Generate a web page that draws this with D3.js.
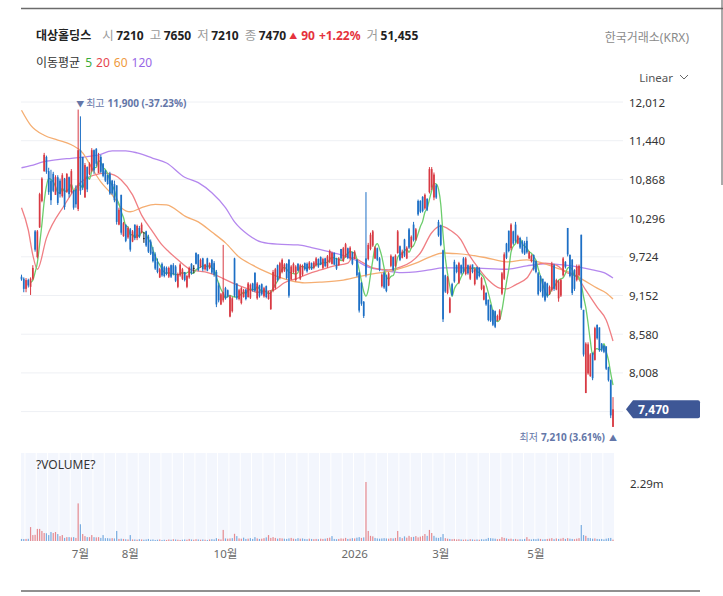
<!DOCTYPE html>
<html>
<head>
<meta charset="utf-8">
<script src="https://cdn.jsdelivr.net/npm/d3@7"></script>
<style>
  body { margin: 0; background: #fff; }
  svg { display: block; font-family: "Noto Sans", "Noto Sans CJK KR", sans-serif; }
</style>
</head>
<body>
<svg id="chart" width="723" height="596"></svg>
<script>
// daily bars, oldest first (price in KRW)
var opens = [
  9430, 9400, 9250, 9380, 9280, 9400, 10100, 9720, 10160, 10550,
  10990, 11200, 10990, 10850, 10950, 10640, 10900, 10850, 10620, 10880,
  10680, 10900, 10680, 10700, 10720, 10430, 11300, 11200, 10600, 11050,
  10950, 11000, 11300, 11320, 10960, 11200, 11100, 11000, 10930, 10950,
  10850, 10800, 10780, 10200, 10640, 10030, 10200, 10010, 10130, 9950,
  10200, 10000, 10150, 10080, 10000, 10100, 10020, 9950, 9800, 9760,
  9650, 9420, 9620, 9570, 9560, 9430, 9600, 9600, 9580, 9280,
  9450, 9400, 9500, 9280, 9420, 9620, 9560, 9780, 9760, 9580,
  9700, 9540, 9700, 9560, 9680, 9630, 9500, 9300, 9020, 9080,
  9260, 9230, 8840, 8920, 9700, 9330, 9100, 9040, 9130, 9240,
  9130, 9120, 9330, 9490, 9110, 9300, 9320, 9140, 9290, 9100,
  8950, 9220, 9260, 9600, 9410, 9500, 9520, 9620, 9680, 9390,
  9500, 9380, 9620, 9400, 9460, 9630, 9620, 9550, 9630, 9560,
  9600, 9690, 9720, 9560, 9700, 9580, 9650, 9620, 9780, 9690,
  9600, 9840, 9660, 9720, 9850, 9700, 9790, 9700, 9680, 9490,
  9340, 9060, 9700, 9690, 9840, 9890, 9700, 9850, 9700, 9290,
  9490, 9450, 9300, 9590, 9720, 9590, 9780, 9880, 9710, 9980,
  9700, 10130, 9870, 10200, 9980, 10550, 10550, 10610, 10440, 10580,
  10680, 10750, 10600, 10780, 10240, 10190, 9820, 9450, 9190, 8900,
  9320, 9650, 9600, 9340, 9600, 9700, 9470, 9600, 9400, 9610,
  9320, 9570, 9560, 9250, 9090, 9190, 9090, 9010, 8940, 8920,
  8780, 8800, 9180, 9400, 9920, 10110, 9850, 10100, 10200, 9920,
  10000, 9950, 9930, 9960, 9700, 9660, 9750, 9660, 9480, 9440,
  9400, 9350, 9330, 9170, 9230, 9600, 9240, 9110, 9150, 9450,
  9650, 10150, 9750, 9680, 9530, 9380, 9450, 10050, 8940, 7710,
  8000, 7960, 8300, 8200, 8720, 8680, 8440, 8410, 8400, 8090,
  7900, 7210
];
var highs = [
  9460, 9420, 9410, 9400, 9420, 9600, 10120, 10120, 10670, 10900,
  11260, 11220, 11040, 11010, 10980, 10930, 10930, 10880, 10960, 10890,
  10960, 10910, 11020, 10710, 10780, 11900, 11800, 11200, 11110, 11060,
  11120, 11330, 11310, 11330, 11260, 11230, 11110, 11010, 10940, 10980,
  10860, 10850, 10780, 10450, 10640, 10240, 10200, 10170, 10150, 10120,
  10200, 10200, 10180, 10230, 10090, 10110, 10050, 9980, 9870, 9790,
  9700, 9560, 9640, 9590, 9580, 9580, 9610, 9630, 9600, 9490,
  9630, 9560, 9500, 9460, 9580, 9630, 9600, 9790, 9760, 9700,
  9710, 9620, 9710, 9640, 9690, 9660, 9530, 9340, 9190, 9900,
  9280, 9240, 9160, 9130, 9710, 9330, 9250, 9280, 9250, 9250,
  9350, 9330, 9340, 9490, 9350, 9310, 9330, 9280, 9300, 9220,
  9230, 9530, 9560, 9610, 9650, 9700, 9630, 9630, 9690, 9600,
  9640, 9600, 9630, 9620, 9610, 9640, 9640, 9660, 9640, 9660,
  9720, 9700, 9730, 9710, 9710, 9750, 9830, 9800, 9790, 9710,
  9720, 9840, 9870, 9930, 9860, 9880, 9800, 9820, 9690, 9500,
  9350, 9070, 10680, 9930, 10080, 10120, 9880, 9860, 9720, 9480,
  9510, 9460, 9500, 9760, 9730, 9760, 10120, 9890, 9830, 9990,
  9880, 10150, 10040, 10240, 10150, 10570, 10560, 10620, 10660, 10590,
  11050, 11050, 10970, 10800, 10270, 10200, 9830, 9460, 9440, 9130,
  9340, 9680, 9610, 9650, 9610, 9720, 9720, 9610, 9610, 9610,
  9560, 9580, 9570, 9430, 9310, 9200, 9090, 9020, 8940, 8930,
  8870, 8950, 9500, 9790, 9930, 10110, 10220, 10110, 10240, 10050,
  10020, 9970, 9960, 10020, 9810, 9760, 9760, 9670, 9500, 9450,
  9400, 9360, 9340, 9300, 9650, 9620, 9400, 9380, 9400, 9720,
  9660, 10150, 9760, 9690, 9540, 9610, 9610, 10050, 8940, 8460,
  8460, 8300, 8310, 8690, 8720, 8680, 8450, 8420, 8400, 8100,
  7910, 7650
];
var lows = [
  9370, 9200, 9200, 9270, 9160, 9380, 9800, 9700, 10150, 10530,
  10980, 10950, 10640, 10490, 10680, 10640, 10490, 10600, 10600, 10420,
  10670, 10600, 10660, 10420, 10450, 10400, 10640, 10710, 10600, 10680,
  10930, 10980, 10950, 11060, 10960, 10960, 10900, 10830, 10790, 10640,
  10640, 10530, 10200, 10190, 10050, 10020, 9940, 9990, 9800, 9940,
  9970, 9970, 10000, 10070, 9930, 9870, 9780, 9750, 9640, 9530,
  9480, 9410, 9430, 9420, 9450, 9410, 9410, 9450, 9350, 9260,
  9430, 9380, 9360, 9260, 9400, 9460, 9480, 9610, 9510, 9560,
  9510, 9520, 9510, 9540, 9470, 9430, 8980, 9050, 9010, 9050,
  9090, 9120, 8830, 8900, 9130, 9090, 9080, 9020, 9120, 9080,
  9120, 9100, 9210, 9200, 9090, 9120, 9150, 9120, 9110, 9090,
  8940, 9200, 9240, 9360, 9390, 9480, 9500, 9390, 9120, 9380,
  9480, 9360, 9510, 9380, 9440, 9520, 9490, 9530, 9530, 9540,
  9580, 9560, 9600, 9540, 9570, 9560, 9630, 9610, 9600, 9530,
  9590, 9680, 9650, 9710, 9690, 9680, 9600, 9690, 9430, 8900,
  9000, 8820, 9420, 9670, 9820, 9870, 9690, 9660, 9510, 9270,
  9250, 9200, 9290, 9570, 9510, 9570, 9770, 9660, 9700, 9720,
  9690, 9840, 9850, 9950, 9960, 10330, 10370, 10380, 10420, 10400,
  10660, 10710, 10560, 10580, 10020, 9880, 8760, 9190, 9170, 8890,
  9140, 9340, 9480, 9320, 9460, 9480, 9450, 9460, 9380, 9480,
  9300, 9380, 9420, 9230, 9080, 9000, 8770, 8760, 8700, 8670,
  8770, 8790, 9160, 9380, 9690, 9790, 9820, 9900, 9930, 9910,
  9840, 9770, 9750, 9770, 9690, 9640, 9520, 9480, 9150, 9200,
  9120, 9060, 9120, 9160, 9210, 9220, 9230, 9060, 9130, 9430,
  9550, 9730, 9420, 9160, 9220, 9360, 9430, 8940, 8250, 7710,
  7980, 7950, 7900, 8190, 8500, 8320, 8320, 8300, 8050, 7880,
  7340, 7210
];
var closes = [
  9390, 9250, 9380, 9300, 9400, 9560, 9830, 10100, 10650, 10880,
  11230, 10980, 10680, 10560, 10700, 10900, 10520, 10650, 10930, 10460,
  10950, 10650, 10990, 10450, 10500, 11300, 10700, 10750, 11080, 10720,
  11100, 11300, 11000, 11100, 11220, 10980, 10920, 10850, 10800, 10660,
  10660, 10560, 10240, 10420, 10080, 10220, 9960, 10150, 9830, 10100,
  10000, 10180, 10020, 10200, 10000, 9890, 9800, 9770, 9660, 9550,
  9500, 9540, 9450, 9440, 9470, 9560, 9430, 9470, 9370, 9470,
  9610, 9540, 9380, 9440, 9560, 9480, 9560, 9620, 9530, 9680,
  9540, 9610, 9520, 9630, 9490, 9460, 9020, 9080, 9170, 9200,
  9110, 9140, 9140, 9110, 9150, 9110, 9230, 9260, 9230, 9100,
  9330, 9310, 9230, 9220, 9330, 9140, 9170, 9260, 9130, 9200,
  9210, 9500, 9540, 9380, 9630, 9680, 9610, 9410, 9150, 9580,
  9620, 9580, 9520, 9600, 9590, 9540, 9510, 9640, 9540, 9640,
  9700, 9580, 9610, 9690, 9590, 9730, 9810, 9780, 9610, 9550,
  9700, 9700, 9850, 9910, 9710, 9860, 9620, 9800, 9450, 8930,
  9030, 8850, 9460, 9900, 10050, 10100, 9860, 9680, 9530, 9460,
  9270, 9220, 9480, 9740, 9530, 9740, 10100, 9680, 9800, 9740,
  9860, 9860, 10020, 9970, 10130, 10350, 10390, 10400, 10640, 10420,
  11020, 11020, 10940, 10600, 10040, 9900, 8800, 9210, 9420, 9110,
  9160, 9360, 9500, 9630, 9480, 9500, 9700, 9480, 9590, 9500,
  9540, 9400, 9440, 9410, 9290, 9020, 8790, 8780, 8720, 8690,
  8850, 8930, 9480, 9760, 9710, 9810, 10200, 9920, 9960, 10030,
  9860, 9790, 9770, 9790, 9790, 9740, 9540, 9500, 9170, 9220,
  9140, 9080, 9140, 9280, 9620, 9250, 9380, 9360, 9380, 9700,
  9570, 9760, 9440, 9190, 9250, 9580, 9590, 8970, 8280, 8440,
  8430, 8280, 7930, 8670, 8520, 8350, 8340, 8320, 8070, 7900,
  7380, 7470
];
// volume in thousands of shares
var volumeK = [
  80, 75, 80, 85, 540, 230, 240, 470, 470, 390,
  310, 300, 230, 350, 310, 350, 270, 190, 230, 120,
  150, 150, 140, 150, 120, 1460, 650, 270, 190, 150,
  150, 230, 150, 140, 150, 120, 230, 110, 110, 100,
  110, 100, 390, 80, 90, 80, 70, 60, 230, 60,
  60, 50, 70, 60, 50, 60, 80, 50, 60, 40,
  50, 60, 40, 50, 40, 60, 50, 70, 60, 50,
  40, 50, 60, 50, 80, 60, 50, 70, 60, 50,
  60, 50, 40, 60, 70, 60, 110, 80, 60, 430,
  100, 90, 100, 110, 280, 190, 100, 90, 130, 80,
  90, 110, 80, 150, 100, 80, 90, 110, 140, 230,
  120, 150, 120, 90, 110, 100, 90, 80, 100, 120,
  90, 80, 110, 90, 100, 80, 70, 90, 80, 70,
  80, 70, 90, 80, 90, 110, 130, 190, 80, 70,
  80, 100, 90, 120, 80, 90, 110, 100, 130, 150,
  120, 140, 2290, 390, 200, 180, 120, 100, 90, 100,
  110, 100, 90, 110, 100, 120, 390, 150, 110, 180,
  130, 200, 150, 160, 190, 140, 170, 200, 270, 200,
  430, 310, 200, 130, 120, 150, 270, 110, 90, 80,
  70, 80, 60, 70, 60, 50, 60, 50, 70, 60,
  50, 60, 50, 70, 60, 80, 120, 110, 100, 90,
  70, 80, 150, 120, 100, 80, 90, 70, 80, 60,
  70, 60, 80, 150, 70, 60, 80, 70, 90, 80,
  60, 70, 80, 90, 110, 70, 100, 80, 90, 120,
  80, 110, 90, 80, 70, 90, 110, 620, 230, 200,
  120, 110, 90, 100, 80, 70, 80, 60, 90, 110,
  120, 51.455
];

// longer moving averages: bar index -> value
var ma20Idx = [0, 3, 5, 7, 11, 19, 25, 29, 32, 37, 41, 44, 49, 53, 58, 62, 65, 69, 75, 81, 85, 93, 99, 104, 111, 116, 122, 128, 132, 138, 144, 146, 151, 155, 162, 167, 172, 176, 181, 185, 189, 194, 197, 200, 206, 211, 214, 218, 223, 227, 231, 236, 240, 245, 249, 254, 258, 261];
var ma20Val = [10450, 10120, 9750, 9540, 10000, 10490, 10790, 10890, 10930, 10960, 10930, 10860, 10640, 10340, 10090, 9900, 9800, 9680, 9530, 9500, 9460, 9340, 9260, 9200, 9230, 9340, 9410, 9490, 9530, 9590, 9630, 9710, 9630, 9560, 9530, 9570, 9650, 9780, 10080, 10180, 10120, 9970, 9780, 9630, 9380, 9260, 9250, 9310, 9410, 9600, 9630, 9600, 9500, 9430, 9230, 8980, 8790, 8480];
var ma60Idx = [0, 4, 10, 16, 22, 27, 31, 35, 40, 44, 48, 53, 59, 64, 73, 78, 84, 90, 96, 102, 108, 113, 119, 125, 132, 142, 153, 165, 174, 180, 186, 192, 198, 205, 214, 223, 230, 236, 242, 248, 254, 258, 261];
var ma60Val = [11890, 11670, 11520, 11450, 11380, 11260, 11040, 10830, 10640, 10450, 10390, 10450, 10500, 10490, 10310, 10240, 10090, 9930, 9720, 9600, 9500, 9430, 9370, 9340, 9350, 9380, 9460, 9530, 9630, 9720, 9780, 9770, 9750, 9710, 9650, 9680, 9630, 9560, 9490, 9380, 9260, 9190, 9100];
var ma120Idx = [0, 4, 10, 16, 22, 28, 34, 40, 46, 51, 58, 64, 72, 78, 84, 90, 94, 100, 106, 113, 122, 128, 132, 138, 147, 153, 159, 168, 174, 180, 186, 198, 214, 223, 231, 240, 246, 252, 257, 261];
var ma120Val = [11040, 11070, 11130, 11160, 11180, 11200, 11230, 11290, 11290, 11260, 11180, 11110, 10900, 10820, 10670, 10450, 10240, 10050, 9940, 9910, 9900, 9860, 9830, 9780, 9680, 9570, 9530, 9490, 9500, 9530, 9560, 9560, 9540, 9590, 9620, 9600, 9570, 9530, 9490, 9410];

var priceTicks = [12012, 11440, 10868, 10296, 9724, 9152, 8580, 8008, 7436];
var monthIdx = [26, 48, 90, 147, 185, 227];
var monthLabels = ["7월", "8월", "10월", "2026", "3월", "5월"];
var maNames = ["5", "20", "60", "120"];
var maColors = ["#6ccd6c", "#f07f84", "#f5ae72", "#b487ee"];
var maLegendColors = ["#3aab3a", "#e5444d", "#ef9a3d", "#9868e6"];

var svg = d3.select("#chart");
var n = closes.length;

var x = d3.scaleLinear().domain([0, n - 1]).range([21.5, 613]);
var y = d3.scaleLinear().domain([7436, 12012]).range([411.6, 102]);
var yv = d3.scaleLinear().domain([0, d3.max(volumeK)]).range([541, 482]);

var upColor = "#d83a43", downColor = "#1d6fc5";

// frame lines
svg.append("line").attr("x1", 21).attr("x2", 723).attr("y1", 8.5).attr("y2", 8.5)
    .attr("stroke", "#6b6b6b").attr("stroke-width", 1.5);
svg.append("line").attr("x1", 722).attr("x2", 722).attr("y1", 0).attr("y2", 185)
    .attr("stroke", "#555");
svg.append("line").attr("x1", 21).attr("x2", 700).attr("y1", 591).attr("y2", 591)
    .attr("stroke", "#6b6b6b").attr("stroke-width", 1.5);

// header: name and last bar summary
var last = n - 1;
var change = closes[last] - closes[last - 1];
var pct = change / closes[last - 1] * 100;
var head = svg.append("text").attr("x", 36).attr("y", 35)
    .attr("dominant-baseline", "central").attr("font-size", 12);
head.append("tspan").attr("font-weight", "bold").attr("fill", "#222").text("대상홀딩스");
var parts = [["시", opens[last]], ["고", highs[last]], ["저", lows[last]], ["종", closes[last]]];
parts.forEach(function(p, k){
    head.append("tspan").attr("dx", k == 0 ? 11 : 6).attr("fill", "#9a9a9a")
        .attr("font-size", 12.5).text(p[0]);
    head.append("tspan").attr("dx", 2.5).attr("font-weight", "bold").attr("fill", "#222").text(p[1]);
});
head.append("tspan").attr("dx", 3).attr("fill", "#e5323c").attr("font-size", 8).text("▲");
head.append("tspan").attr("dx", 4).attr("fill", "#e5323c").attr("font-weight", "bold")
    .text(change);
head.append("tspan").attr("dx", 4).attr("fill", "#e5323c").attr("font-weight", "bold")
    .text("+" + pct.toFixed(2) + "%");
head.append("tspan").attr("dx", 6).attr("fill", "#9a9a9a").attr("font-size", 12.5).text("거");
head.append("tspan").attr("dx", 2.5).attr("font-weight", "bold").attr("fill", "#222")
    .text(d3.format(",")(Math.round(volumeK[last] * 1000)));

// moving average legend
var leg = svg.append("text").attr("x", 36).attr("y", 62)
    .attr("dominant-baseline", "central").attr("font-size", 12);
leg.append("tspan").attr("fill", "#333").text("이동평균");
maNames.forEach(function(m, k){
    leg.append("tspan").attr("dx", k == 0 ? 5 : 4).attr("fill", maLegendColors[k]).text(m);
});

svg.append("text").attr("x", 689).attr("y", 37).attr("text-anchor", "end")
    .attr("dominant-baseline", "central").attr("font-size", 12).attr("fill", "#8a8a8a")
    .text("한국거래소(KRX)");
svg.append("text").attr("x", 673).attr("y", 77).attr("text-anchor", "end")
    .attr("dominant-baseline", "central").attr("font-size", 11.5).attr("fill", "#555")
    .text("Linear");
svg.append("path").attr("d", "M680,75 L684,79 L688,75").attr("fill", "none")
    .attr("stroke", "#666").attr("stroke-width", 1);

// price grid and labels
svg.append("g").selectAll("line").data(priceTicks).enter().append("line")
    .attr("x1", 21).attr("x2", 623)
    .attr("y1", function(d){ return y(d); }).attr("y2", function(d){ return y(d); })
    .attr("stroke", "#eef0f4");
svg.append("g").selectAll("text").data(priceTicks.slice(0, -1)).enter().append("text")
    .attr("x", 629).attr("y", function(d){ return y(d); })
    .attr("dominant-baseline", "central").attr("font-size", 11.5).attr("fill", "#333")
    .text(function(d){ return d3.format(",")(d); });

// volume panel
svg.append("rect").attr("x", 21).attr("y", 453).attr("width", 593).attr("height", 88)
    .attr("fill", "#f3f6fd");
svg.append("g").selectAll("line").data(d3.range(2, n, 5)).enter().append("line")
    .attr("x1", function(d){ return x(d) - 1.1; }).attr("x2", function(d){ return x(d) - 1.1; })
    .attr("y1", 453).attr("y2", 541).attr("stroke", "#ffffff").attr("stroke-width", 1);
svg.append("text").attr("x", 36).attr("y", 464).attr("dominant-baseline", "central")
    .attr("font-size", 12).attr("fill", "#333").text("?VOLUME?");
svg.append("text").attr("x", 630).attr("y", 483).attr("dominant-baseline", "central")
    .attr("font-size", 11.5).attr("fill", "#333")
    .text((d3.max(volumeK) / 1000).toFixed(2) + "m");

svg.append("g").selectAll("rect").data(volumeK).enter().append("rect")
    .attr("x", function(d, i){ return x(i) - 0.6; })
    .attr("width", 1.2)
    .attr("y", function(d){ return yv(d); })
    .attr("height", function(d){ return 541 - yv(d); })
    .attr("fill", function(d, i){
        var up = i == 0 ? closes[0] >= opens[0] : closes[i] >= closes[i - 1];
        return up ? "#e58a90" : "#79ace0";
    });

// x axis labels
svg.append("g").selectAll("text").data(monthIdx).enter().append("text")
    .attr("x", function(d){ return x(d); }).attr("y", 553)
    .attr("text-anchor", "middle").attr("dominant-baseline", "central")
    .attr("font-size", 11.5).attr("fill", "#6a6a6a")
    .text(function(d, k){ return monthLabels[k]; });

// moving averages
var ma5 = closes.map(function(c, i){
    return i < 4 ? null : d3.mean(closes.slice(i - 4, i + 1));
});
var maLine = d3.line()
    .defined(function(d){ return d[1] != null; })
    .x(function(d){ return x(d[0]); })
    .y(function(d){ return y(d[1]); })
    .curve(d3.curveMonotoneX);
var maSeries = [
    ma5.map(function(v, i){ return [i, v]; }),
    ma20Idx.map(function(v, k){ return [v, ma20Val[k]]; }),
    ma60Idx.map(function(v, k){ return [v, ma60Val[k]]; }),
    ma120Idx.map(function(v, k){ return [v, ma120Val[k]]; })
];
[3, 2, 1, 0].forEach(function(k){
    svg.append("path").datum(maSeries[k]).attr("d", maLine)
        .attr("fill", "none").attr("stroke", maColors[k]).attr("stroke-width", 1.3);
});

// candles
var candles = svg.append("g").selectAll("g").data(closes).enter().append("g");
function candleColor(i){
    if (closes[i] > opens[i]) return upColor;
    if (closes[i] < opens[i]) return downColor;
    return "#222";
}
candles.append("line")
    .attr("x1", function(d, i){ return x(i); }).attr("x2", function(d, i){ return x(i); })
    .attr("y1", function(d, i){ return y(highs[i]); })
    .attr("y2", function(d, i){ return y(lows[i]); })
    .attr("stroke", function(d, i){ return candleColor(i); }).attr("stroke-width", 1);
candles.append("rect")
    .attr("x", function(d, i){ return x(i) - 0.85; }).attr("width", 1.7)
    .attr("y", function(d, i){ return y(Math.max(opens[i], closes[i])); })
    .attr("height", function(d, i){ return Math.max(1, Math.abs(y(opens[i]) - y(closes[i]))); })
    .attr("fill", function(d, i){ return candleColor(i); });

// high / low markers
var hiIdx = d3.maxIndex(highs), loIdx = d3.minIndex(lows);
var hiPct = (closes[last] - highs[hiIdx]) / highs[hiIdx] * 100;
var loPct = (closes[last] - lows[loIdx]) / lows[loIdx] * 100;
var hiText = svg.append("text").attr("x", x(hiIdx) - 2).attr("y", 103)
    .attr("dominant-baseline", "central").attr("font-size", 10).attr("fill", "#6476a8");
hiText.append("tspan").attr("font-size", 8).text("▼");
hiText.append("tspan").attr("dx", 2).text("최고");
hiText.append("tspan").attr("dx", 3).attr("font-weight", "bold")
    .text(d3.format(",")(highs[hiIdx]) + " (" + hiPct.toFixed(2) + "%)");
var loText = svg.append("text").attr("x", x(loIdx) + 4).attr("y", 437)
    .attr("text-anchor", "end").attr("dominant-baseline", "central")
    .attr("font-size", 10).attr("fill", "#6476a8");
loText.append("tspan").text("최저");
loText.append("tspan").attr("dx", 3).attr("font-weight", "bold")
    .text(d3.format(",")(lows[loIdx]) + " (" + loPct.toFixed(2) + "%)");
loText.append("tspan").attr("dx", 4).attr("font-size", 8).text("▲");

// last price badge
var ly = y(closes[last]);
svg.append("path")
    .attr("d", "M626," + ly + " L633," + (ly - 9) + " L698," + (ly - 9) + " Q700," + (ly - 9) + " 700," + (ly - 7)
        + " L700," + (ly + 7) + " Q700," + (ly + 9) + " 698," + (ly + 9) + " L633," + (ly + 9) + " Z")
    .attr("fill", "#3e5796");
svg.append("text").attr("x", 638).attr("y", ly).attr("dominant-baseline", "central")
    .attr("font-size", 12).attr("font-weight", "bold").attr("fill", "#fff")
    .text(d3.format(",")(closes[last]));
</script>
</body>
</html>
